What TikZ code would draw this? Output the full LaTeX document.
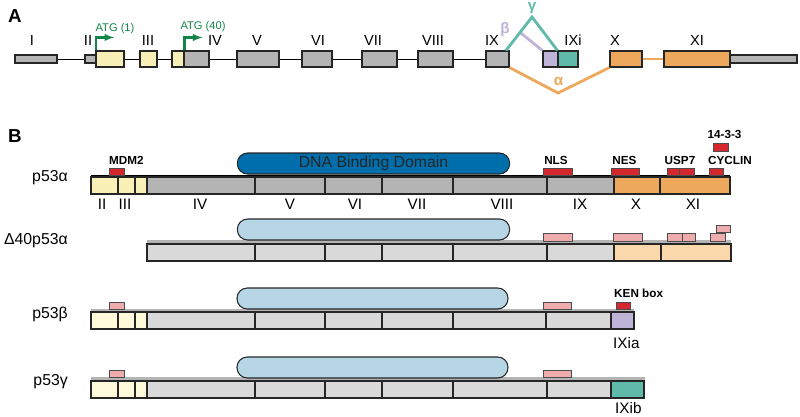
\documentclass[tikz,border=0pt]{standalone}
\usepackage{fontspec}
\setmainfont{Liberation Sans}
\usepackage{tikz}
\usetikzlibrary{positioning}
\usetikzlibrary{fit}
\usetikzlibrary{arrows}

\definecolor{exgray}{RGB}{180,180,180}
\definecolor{exyellow}{RGB}{248,240,182}
\definecolor{paleyellow}{RGB}{255,250,218}
\definecolor{palegray}{RGB}{217,217,217}
\definecolor{exorange}{RGB}{238,168,92}
\definecolor{paleorange}{RGB}{250,216,172}
\definecolor{expurple}{RGB}{190,180,216}
\definecolor{exteal}{RGB}{96,186,170}
\definecolor{motifred}{RGB}{212,40,46}
\definecolor{motifpink}{RGB}{238,172,172}
\definecolor{dbddark}{RGB}{0,110,170}
\definecolor{dbdlight}{RGB}{182,214,230}
\definecolor{atggreen}{RGB}{20,132,72}

\begin{document}
\begin{tikzpicture}[x=0.03cm,y=-0.03cm,>=latex,
  exon/.style={draw=black!85,line width=0.9pt,inner sep=0pt},
  seg/.style={draw=black!85,line width=0.9pt},
  motif/.style={draw=black!70,line width=0.6pt},
  ex lbl/.style={anchor=base,inner sep=0pt,font=\fontsize{12.5}{14}\selectfont},
  iso lbl/.style={anchor=base east,inner sep=0pt,font=\fontsize{13.5}{15}\selectfont},
  mot lbl/.style={anchor=base,inner sep=0pt,font=\bfseries\fontsize{10}{12}\selectfont},
  panel/.style={anchor=base west,inner sep=0pt,font=\bfseries\fontsize{16}{18}\selectfont},
  dbd/.style={draw=black!85,line width=0.9pt,rounded corners=3.1mm,inner sep=0pt,
    minimum width=8.17cm,minimum height=0.63cm,
    font=\fontsize{13.5}{15}\selectfont,text=black!85}]

\useasboundingbox (0,0) rectangle (800,417);

% panel A: gene
\node [panel] (pa) at (8,22) {A};

\node [exon,fill=exgray,fit={(15,55) (57,63)}] (e1) {};
\node [exon,fill=exgray,fit={(85,55) (96,63)}] (e2a) {};
\node [exon,fill=exyellow,fit={(96,51) (124,67)}] (e2b) {};
\node [exon,fill=exyellow,fit={(140,51) (157,67)}] (e3) {};
\node [exon,fill=exyellow,fit={(172,51) (184,67)}] (e4a) {};
\node [exon,fill=exgray,fit={(184,51) (209,67)}] (e4b) {};
\node [exon,fill=exgray,fit={(237,51) (279,67)}] (e5) {};
\node [exon,fill=exgray,fit={(302,51) (332,67)}] (e6) {};
\node [exon,fill=exgray,fit={(362,51) (397,67)}] (e7) {};
\node [exon,fill=exgray,fit={(418,51) (453,67)}] (e8) {};
\node [exon,fill=exgray,fit={(486,51) (509,67)}] (e9) {};
\node [exon,fill=expurple,fit={(543,51) (558,67)}] (e9a) {};
\node [exon,fill=exteal,fit={(558,51) (578,67)}] (e9b) {};
\node [exon,fill=exorange,fit={(610,51) (642,67)}] (e10) {};
\node [exon,fill=exorange,fit={(664,51) (730,67)}] (e11) {};
\node [exon,fill=exgray,fit={(730,55) (797,63)}] (e11u) {};

\draw [line width=0.7pt] (e1.east) -- (e2a.west);
\draw [line width=0.7pt] (e2b.east) -- (e3.west);
\draw [line width=0.7pt] (e3.east) -- (e4a.west);
\draw [line width=0.7pt] (e4b.east) -- (e5.west);
\draw [line width=0.7pt] (e5.east) -- (e6.west);
\draw [line width=0.7pt] (e6.east) -- (e7.west);
\draw [line width=0.7pt] (e7.east) -- (e8.west);
\draw [line width=0.7pt] (e8.east) -- (e9.west);
\draw [exorange,line width=2.4pt] (e10.east) -- (e11.west);

\node [ex lbl] (l1) at (32,45) {I};
\node [ex lbl] (l2) at (88,45) {II};
\node [ex lbl] (l3) at (148,45) {III};
\node [ex lbl] (l4) at (215,45) {IV};
\node [ex lbl] (l5) at (257,45) {V};
\node [ex lbl] (l6) at (318,45) {VI};
\node [ex lbl] (l7) at (373,45) {VII};
\node [ex lbl] (l8) at (433,45) {VIII};
\node [ex lbl] (l9) at (492,45) {IX};
\node [ex lbl] (l9i) at (573,45) {IXi};
\node [ex lbl] (l10) at (615,45) {X};
\node [ex lbl] (l11) at (697,45) {XI};

% start codons
\draw [->,atggreen,line width=1.8pt] ([xshift=0.6pt]e2b.north west) -- ++(0,-13) -- ++(18,0);
\draw [->,atggreen,line width=1.8pt] (e4a.north east) -- ++(0,-13) -- ++(18,0);
\node [ex lbl,atggreen,font=\fontsize{9.5}{11}\selectfont] (atg1) at (115,31.5) {ATG (1)};
\node [ex lbl,atggreen,font=\fontsize{9.5}{11}\selectfont] (atg40) at (203,29) {ATG (40)};

% splicing
\coordinate (gtop) at (532,17);
\coordinate (bfork) at (520,32.5);
\coordinate (abot) at (558,93);
\draw [expurple,line width=2.4pt] (bfork) -- (e9a.north west);
\draw [exteal,line width=2.4pt] ([xshift=-3pt]e9.north east) -- (gtop) -- (e9b.north west);
\draw [exorange,line width=2.4pt] (e9.south east) -- (abot) -- (e10.south west);
\node [exteal,font=\bfseries\fontsize{13}{15}\selectfont] (gam) at (532,8) {γ};
\node [expurple,font=\bfseries\fontsize{13}{15}\selectfont] (bet) at (505,30) {β};
\node [exorange,font=\bfseries\fontsize{13}{15}\selectfont] (alp) at (558.5,81) {α};

% panel B: isoforms
\node [panel] (pb) at (8,142) {B};

% p53 alpha
\draw [line width=2pt] (91,176) -- (730,176);
\draw [seg,fill=exyellow] (91,177) rectangle (118,194);
\draw [seg,fill=exyellow] (118,177) rectangle (135,194);
\draw [seg,fill=exyellow] (135,177) rectangle (147,194);
\draw [seg,fill=exgray] (147,177) rectangle (255,194);
\draw [seg,fill=exgray] (255,177) rectangle (325,194);
\draw [seg,fill=exgray] (325,177) rectangle (382,194);
\draw [seg,fill=exgray] (382,177) rectangle (453,194);
\draw [seg,fill=exgray] (453,177) rectangle (547,194);
\draw [seg,fill=exgray] (547,177) rectangle (614,194);
\draw [seg,fill=exorange] (614,177) rectangle (660,194);
\draw [seg,fill=exorange] (660,177) rectangle (730,194);
\node [dbd,fill=dbddark] (dbda) at (373.5,163.5) {DNA Binding Domain};

\draw [motif,fill=motifred] (109,168) rectangle (124,175);
\draw [motif,fill=motifred] (543,168) rectangle (572,175);
\draw [motif,fill=motifred] (611,168) rectangle (639,175);
\draw [motif,fill=motifred] (667,168) rectangle (679,175);
\draw [motif,fill=motifred] (679,168) rectangle (694,175);
\draw [motif,fill=motifred] (709,168) rectangle (723,175);
\draw [motif,fill=motifred] (713,143) rectangle (728,151);
\node [mot lbl,anchor=base west] (mdm) at (109,164) {MDM2};
\node [mot lbl] (nls) at (556,164) {NLS};
\node [mot lbl] (nes) at (624.5,164) {NES};
\node [mot lbl] (usp) at (680,164) {USP7};
\node [mot lbl] (cyc) at (730,164) {CYCLIN};
\node [mot lbl] (f33) at (724.5,138) {14-3-3};

\node [ex lbl,font=\fontsize{13}{15}\selectfont] (b2) at (102,209) {II};
\node [ex lbl,font=\fontsize{13}{15}\selectfont] (b3) at (125,209) {III};
\node [ex lbl,font=\fontsize{13}{15}\selectfont] (b4) at (200,209) {IV};
\node [ex lbl,font=\fontsize{13}{15}\selectfont] (b5) at (290,209) {V};
\node [ex lbl,font=\fontsize{13}{15}\selectfont] (b6) at (355,209) {VI};
\node [ex lbl,font=\fontsize{13}{15}\selectfont] (b7) at (417,209) {VII};
\node [ex lbl,font=\fontsize{13}{15}\selectfont] (b8) at (502,209) {VIII};
\node [ex lbl,font=\fontsize{13}{15}\selectfont] (b9) at (580,209) {IX};
\node [ex lbl,font=\fontsize{13}{15}\selectfont] (b10) at (636,209) {X};
\node [ex lbl,font=\fontsize{13}{15}\selectfont] (b11) at (693,209) {XI};
\node [iso lbl] (isoa) at (68,181) {p53α};

% delta40 p53 alpha
\draw [exgray,line width=2.2pt] (147,241.5) -- (731,241.5);
\draw [seg,fill=palegray] (147,244) rectangle (255,261);
\draw [seg,fill=palegray] (255,244) rectangle (325,261);
\draw [seg,fill=palegray] (325,244) rectangle (382,261);
\draw [seg,fill=palegray] (382,244) rectangle (453,261);
\draw [seg,fill=palegray] (453,244) rectangle (547,261);
\draw [seg,fill=palegray] (547,244) rectangle (614,261);
\draw [seg,fill=paleorange] (614,244) rectangle (661,261);
\draw [seg,fill=paleorange] (661,244) rectangle (731,261);
\node [dbd,fill=dbdlight] (dbdd) at (373.5,229.5) {};

\draw [motif,fill=motifpink] (543,233) rectangle (572,241);
\draw [motif,fill=motifpink] (613,233) rectangle (642,241);
\draw [motif,fill=motifpink] (667,233) rectangle (682,241);
\draw [motif,fill=motifpink] (682,233) rectangle (695,241);
\draw [motif,fill=motifpink] (710,233) rectangle (725,241);
\draw [motif,fill=motifpink] (716,225) rectangle (730,232);
\node [iso lbl] (isod) at (68,244) {Δ40p53α};

% p53 beta
\draw [exgray,line width=2.2pt] (91,310) -- (634,310);
\draw [seg,fill=paleyellow] (91,312) rectangle (118,329);
\draw [seg,fill=paleyellow] (118,312) rectangle (135,329);
\draw [seg,fill=paleyellow] (135,312) rectangle (147,329);
\draw [seg,fill=palegray] (147,312) rectangle (255,329);
\draw [seg,fill=palegray] (255,312) rectangle (325,329);
\draw [seg,fill=palegray] (325,312) rectangle (382,329);
\draw [seg,fill=palegray] (382,312) rectangle (453,329);
\draw [seg,fill=palegray] (453,312) rectangle (546,329);
\draw [seg,fill=palegray] (546,312) rectangle (611,329);
\draw [seg,fill=expurple] (611,312) rectangle (634,329);
\node [dbd,fill=dbdlight,minimum width=8.13cm] (dbdb) at (372.5,298.5) {};

\draw [motif,fill=motifpink] (109,302) rectangle (124,309);
\draw [motif,fill=motifpink] (543,302) rectangle (571,309);
\draw [motif,fill=motifred] (616,302) rectangle (630,309);
\node [mot lbl,anchor=base west] (ken) at (614,297) {KEN box};
\node [ex lbl,anchor=base west,font=\fontsize{13}{15}\selectfont] (b9a) at (613,348) {IXia};
\node [iso lbl] (isob) at (68,318) {p53β};

% p53 gamma
\draw [exgray,line width=2.2pt] (91,378.5) -- (645,378.5);
\draw [seg,fill=paleyellow] (91,381) rectangle (118,398);
\draw [seg,fill=paleyellow] (118,381) rectangle (135,398);
\draw [seg,fill=paleyellow] (135,381) rectangle (147,398);
\draw [seg,fill=palegray] (147,381) rectangle (255,398);
\draw [seg,fill=palegray] (255,381) rectangle (325,398);
\draw [seg,fill=palegray] (325,381) rectangle (382,398);
\draw [seg,fill=palegray] (382,381) rectangle (453,398);
\draw [seg,fill=palegray] (453,381) rectangle (547,398);
\draw [seg,fill=palegray] (547,381) rectangle (611,398);
\draw [seg,fill=exteal] (611,381) rectangle (644,398);
\node [dbd,fill=dbdlight,minimum width=8.13cm] (dbdg) at (372.5,367.5) {};

\draw [motif,fill=motifpink] (109,370) rectangle (124,377.5);
\draw [motif,fill=motifpink] (543,370) rectangle (571,377.5);
\node [ex lbl,anchor=base west,font=\fontsize{13}{15}\selectfont] (b9b) at (615,413) {IXib};
\node [iso lbl] (isog) at (68,385) {p53γ};

\end{tikzpicture}
\end{document}
